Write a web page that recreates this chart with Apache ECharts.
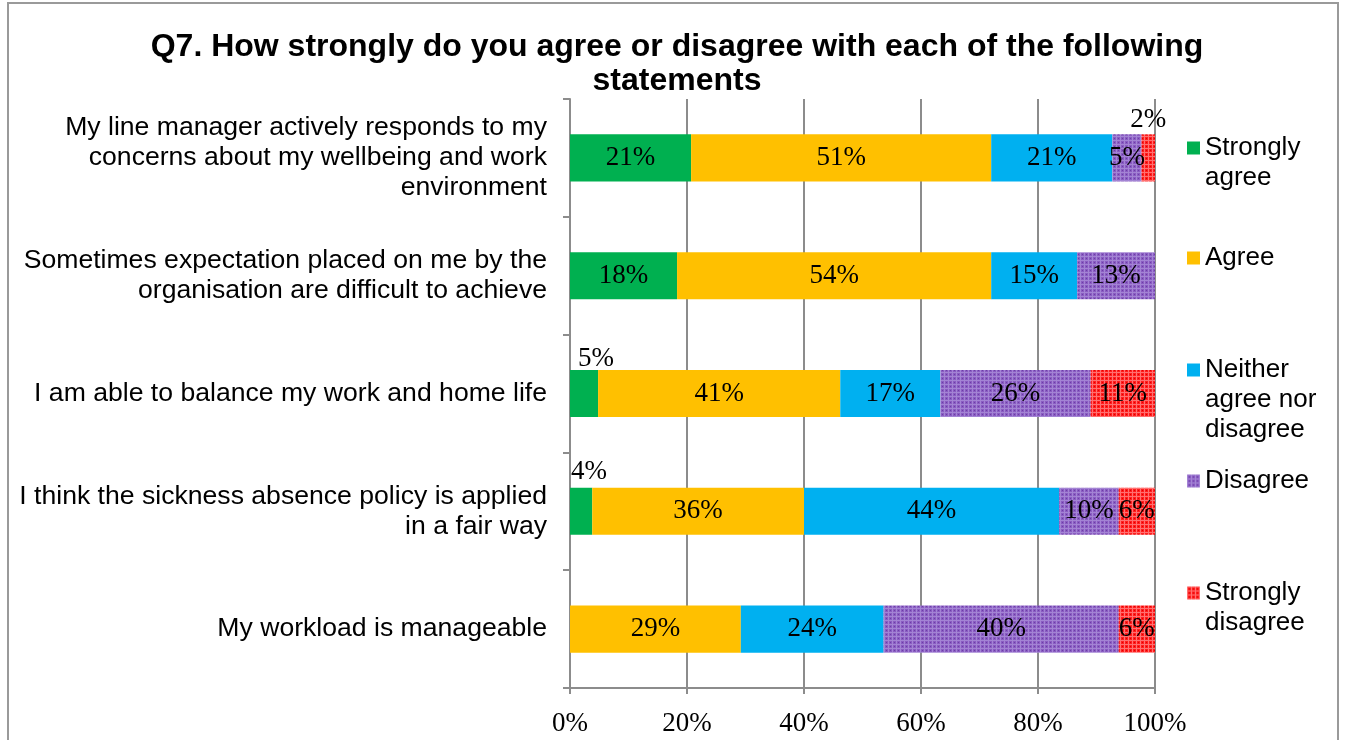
<!DOCTYPE html>
<html>
<head>
<meta charset="utf-8">
<script src="https://cdn.jsdelivr.net/npm/echarts@6/dist/echarts.min.js"></script>
<style>
  html, body { margin: 0; padding: 0; background: #fff; }
  #chart { width: 1347px; height: 740px; }
</style>
</head>
<body>
<div id="chart"></div>
<script>
// Survey statements (top to bottom)
const statements = [
  'My line manager actively responds to my\nconcerns about my wellbeing and work\nenvironment',
  'Sometimes expectation placed on me by the\norganisation are difficult to achieve',
  'I am able to balance my work and home life',
  'I think the sickness absence policy is applied\nin a fair way',
  'My workload is manageable'
];

// Response categories
const responses = ['Strongly agree', 'Agree', 'Neither agree nor disagree', 'Disagree', 'Strongly disagree'];

// Share of respondents (%) per statement, one array per response
const stronglyAgree    = [20.7, 18.3, 4.8, 3.8, 0];
const agree            = [51.3, 53.7, 41.4, 36.2, 29.2];
const neither          = [20.7, 14.7, 17.1, 43.6, 24.4];
const disagree         = [5.0, 13.3, 25.7, 10.2, 40.2];
const stronglyDisagree = [2.3, 0, 11.0, 6.2, 6.2];

// Axis tick values (%)
const xTicks = [0, 20, 40, 60, 80, 100];

const seriesValues = [stronglyAgree, agree, neither, disagree, stronglyDisagree];

// Textured fills for the two "disagree" groups
function makePattern(base, light, dot) {
  const c = document.createElement('canvas');
  c.width = 4; c.height = 4;
  const g = c.getContext('2d');
  g.fillStyle = base; g.fillRect(0, 0, 4, 4);
  g.fillStyle = light; g.fillRect(0, 0, 4, 1); g.fillRect(0, 0, 1, 4);
  g.fillStyle = dot; g.fillRect(2, 2, 1, 1);
  return { image: c, repeat: 'repeat' };
}

const colors = [
  '#00B050',
  '#FFC000',
  '#00B0F0',
  makePattern('#8A5CC2', '#A384D4', '#6B3FA6'),
  makePattern('#FF1E1E', '#FF7070', '#E00000')
];

// Small segments whose value label sits above the bar: series index -> {row: offset}
const raisedLabels = {
  0: { 2: [12, 4], 3: [8, 0] },
  4: { 0: [0, 1] }
};

const serifFont = '"Liberation Serif", "DejaVu Serif", serif';
const sansFont = '"Liberation Sans", Arial, sans-serif';

const series = responses.map((name, si) => ({
  name: name,
  type: 'bar',
  stack: 'total',
  barCategoryGap: '60%',
  itemStyle: { color: colors[si] },
  label: {
    show: true,
    position: 'inside',
    color: '#000',
    fontFamily: serifFont,
    fontSize: 27,
    formatter: p => (p.value > 0 ? Math.round(p.value) + '%' : '')
  },
  data: seriesValues[si].map((v, ri) => {
    const r = raisedLabels[si];
    if (r && r[ri]) {
      return { value: v, label: { position: 'top', distance: 2, offset: r[ri] } };
    }
    return v;
  })
}));

// Legend entries sit at individual heights on the right; the marker lines up
// with the first text line, so blank lines are padded above multi-line names.
const legendItems = [
  { name: 'Strongly agree', lines: ['Strongly', 'agree'], iconY: 148 },
  { name: 'Agree', lines: ['Agree'], iconY: 258 },
  { name: 'Neither agree nor disagree', lines: ['Neither', 'agree nor', 'disagree'], iconY: 370 },
  { name: 'Disagree', lines: ['Disagree'], iconY: 481 },
  { name: 'Strongly disagree', lines: ['Strongly', 'disagree'], iconY: 593 }
];
const legendLine = 30;
const legends = legendItems.map(it => {
  const n = it.lines.length;
  const text = new Array(n - 1).fill('').concat(it.lines).join('\n');
  const h = legendLine * (2 * n - 1);
  return {
    left: 1187,
    top: it.iconY - h / 2,
    padding: 0,
    itemWidth: 13,
    itemHeight: 13,
    itemGap: 0,
    icon: 'rect',
    selectedMode: false,
    data: [it.name],
    formatter: () => text,
    textStyle: {
      fontFamily: sansFont,
      fontSize: 26,
      color: '#000',
      lineHeight: legendLine
    }
  };
});

const chart = echarts.init(document.getElementById('chart'), null, { renderer: 'canvas' });
chart.setOption({
  backgroundColor: '#fff',
  animation: false,
  title: {
    text: 'Q7. How strongly do you agree or disagree with each of the following\nstatements',
    left: 677,
    top: 30,
    padding: 0,
    textAlign: 'center',
    textStyle: {
      fontFamily: sansFont,
      fontWeight: 'bold',
      fontSize: 32,
      lineHeight: 34,
      color: '#000'
    }
  },
  graphic: [{
    type: 'rect',
    shape: { x: 8, y: 3, width: 1330, height: 760 },
    style: { fill: 'none', stroke: '#9a9a9a', lineWidth: 2 },
    silent: true,
    z: -1
  }],
  legend: legends,
  grid: { left: 570, right: 192, top: 99, bottom: 52, containLabel: false },
  xAxis: {
    type: 'value',
    min: xTicks[0],
    max: xTicks[xTicks.length - 1],
    interval: xTicks[1] - xTicks[0],
    axisLine: { show: true, lineStyle: { color: '#8c8c8c', width: 2 } },
    axisTick: { show: true, length: 6, lineStyle: { color: '#8c8c8c', width: 2 } },
    splitLine: { show: true, lineStyle: { color: '#8c8c8c', width: 2 } },
    axisLabel: {
      margin: 22,
      color: '#000',
      fontFamily: serifFont,
      fontSize: 27,
      formatter: '{value}%'
    }
  },
  yAxis: {
    type: 'category',
    inverse: true,
    data: statements,
    axisLine: { show: true, lineStyle: { color: '#8c8c8c', width: 2 } },
    axisTick: { show: true, length: 7, lineStyle: { color: '#8c8c8c', width: 2 } },
    axisLabel: {
      margin: 23,
      color: '#000',
      fontFamily: sansFont,
      fontSize: 26.6,
      lineHeight: 30,
      align: 'right'
    }
  },
  series: series
});
</script>
</body>
</html>
